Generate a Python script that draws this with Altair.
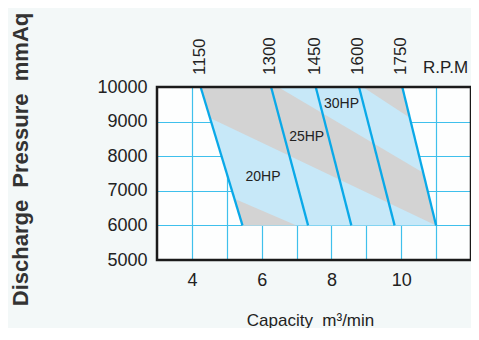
import altair as alt
import pandas as pd

# ---- data ----
rpm = [1150, 1300, 1450, 1600, 1750]
q_top = [4.25, 6.27, 7.55, 8.79, 10.03]      # capacity at 10000 mmAq
q_bottom = [5.45, 7.33, 8.57, 9.81, 11.0]    # capacity at 6000 mmAq
p_top = 10000
p_bottom = 6000

# HP band boundary lines, two points each
bound_q1 = [5.22, 4.52, 6.47, 8.90]
bound_p1 = [6770, 9106, 10000, 10000]
bound_q2 = [7.0, 11.0, 10.63, 10.25]
bound_p2 = [6000, 6000, 7520, 9106]

hp_labels = ["20HP", "25HP", "30HP"]
hp_q = [6.04, 7.29, 8.29]
hp_p = [7405, 8558, 9504]

x_domain = [3, 12]
y_domain = [5000, 10000]
x_grid = [4, 5, 6, 7, 8, 9, 10, 11]
y_ticks = [5000, 6000, 7000, 8000, 9000, 10000]

BLUE_FILL = "#c7e8f8"
GRAY_FILL = "#d3d3d3"
LINE = "#0aa9e8"
GRID = "#3fc0ec"
FONT = "Liberation Sans"


def line_coef(i):
    b = (bound_p2[i] - bound_p1[i]) / (bound_q2[i] - bound_q1[i])
    a = bound_p1[i] - b * bound_q1[i]
    return a, b


def clip(poly, i, keep_above):
    a, b = line_coef(i)

    def side(pt):
        v = pt[1] - (a + b * pt[0])
        return v if keep_above else -v

    out = []
    n = len(poly)
    for k in range(n):
        cur, nxt = poly[k], poly[(k + 1) % n]
        sc, sn = side(cur), side(nxt)
        if sc >= 0:
            out.append(cur)
        if (sc >= 0) != (sn >= 0):
            t = sc / (sc - sn)
            out.append((cur[0] + t * (nxt[0] - cur[0]), cur[1] + t * (nxt[1] - cur[1])))
    return out


quad = [(q_top[0], p_top), (q_top[-1], p_top), (q_bottom[-1], p_bottom), (q_bottom[0], p_bottom)]
gray_polys = {
    "A": clip(quad, 0, False),
    "B": clip(clip(quad, 1, True), 2, False),
    "C": clip(quad, 3, True),
}


def poly_df(polys):
    rows = []
    for name, pts in polys.items():
        for k, (q, p) in enumerate(pts + [pts[0]]):
            rows.append({"band": name, "idx": k, "Q": q, "P": p})
    return pd.DataFrame(rows)


blue_df = poly_df({"quad": quad})
gray_df = poly_df(gray_polys)

lines_rows = []
for r, qt, qb in zip(rpm, q_top, q_bottom):
    lines_rows.append({"rpm": r, "Q": qt, "P": p_top, "o": 0})
    lines_rows.append({"rpm": r, "Q": qb, "P": p_bottom, "o": 1})
lines_df = pd.DataFrame(lines_rows)

rpm_lab_df = pd.DataFrame({"rpm": [str(r) for r in rpm], "Q": q_top, "P": [p_top] * len(rpm)})
hp_df = pd.DataFrame({"label": hp_labels, "Q": hp_q, "P": hp_p})
rpm_title_df = pd.DataFrame({"label": ["R.P.M"], "Q": [11.27], "P": [p_top]})
frame_df = pd.DataFrame({"x": [x_domain[0]], "x2": [x_domain[1]], "y": [y_domain[0]], "y2": [y_domain[1]]})

xs = alt.Scale(domain=x_domain, nice=False, zero=False)
ys = alt.Scale(domain=y_domain, nice=False, zero=False)

x_axis = alt.Axis(
    values=x_grid,
    labelExpr="datum.value % 2 == 0 ? datum.label : ''",
    title="Capacity\u00a0\u00a0m\u00b3/min",
    titleFontWeight="normal",
    titleFontSize=17,
    titleX=153,
    titleY=60,
    titleBaseline="middle",
    titleColor="#222222",
    labelPadding=11,
)
y_axis = alt.Axis(
    values=y_ticks,
    format="d",
    labelOverlap=False,
    labelBound=False,
    labelFlush=False,
    title="Discharge\u00a0\u00a0Pressure\u00a0\u00a0mmAq",
    titleFontWeight="bold",
    titleFontSize=22,
    titleAngle=-90,
    titleX=-137,
    titleY=72,
    titleAlign="center",
    titleBaseline="middle",
    titleColor="#333333",
    labelPadding=10,
    gridOpacity={"condition": {"test": "datum.value == 5000 || datum.value == 10000", "value": 0}, "value": 1},
)

X = alt.X("Q:Q", scale=xs, axis=x_axis)
Y = alt.Y("P:Q", scale=ys, axis=y_axis)

blue = alt.Chart(blue_df).mark_line(filled=True, strokeWidth=0, color=BLUE_FILL).encode(
    x=X, y=Y, order="idx:Q", detail="band:N"
)
gray = alt.Chart(gray_df).mark_line(filled=True, strokeWidth=0, color=GRAY_FILL).encode(
    x=X, y=Y, order="idx:Q", detail="band:N"
)
rpm_lines = alt.Chart(lines_df).mark_line(color=LINE, strokeWidth=2.3).encode(
    x=X, y=Y, order="o:Q", detail="rpm:N"
)
frame = alt.Chart(frame_df).mark_rect(filled=False, stroke="#1a1a1a", strokeWidth=2.5).encode(
    x=alt.X("x:Q", scale=xs, axis=x_axis), x2="x2", y=alt.Y("y:Q", scale=ys, axis=y_axis), y2="y2"
)
rpm_text = alt.Chart(rpm_lab_df).mark_text(
    angle=270, align="left", baseline="middle", yOffset=-12, xOffset=-1,
    font=FONT, fontSize=17, color="#222222"
).encode(x=X, y=Y, text="rpm:N")
rpm_title = alt.Chart(rpm_title_df).mark_text(
    align="center", baseline="middle", yOffset=-19, font=FONT, fontSize=17, color="#222222"
).encode(x=X, y=Y, text="label:N")
hp_text = alt.Chart(hp_df).mark_text(
    align="center", baseline="middle", font=FONT, fontSize=14, color="#222222"
).encode(x=X, y=Y, text="label:N")

chart = (
    alt.layer(blue, gray, rpm_lines, hp_text, frame, rpm_text, rpm_title)
    .properties(
        width=314,
        height=173,
        autosize=alt.AutoSizeParams(type="none"),
        padding={"left": 149, "top": 79, "right": 0, "bottom": 68},
        background="#f3f8f8",
    )
    .configure_view(strokeWidth=0, fill="#fdfefe")
    .configure_axis(
        grid=True,
        gridColor=GRID,
        gridWidth=1.2,
        domain=False,
        ticks=False,
        tickSize=0,
        labelFont=FONT,
        labelFontSize=18,
        labelColor="#222222",
        titleFont=FONT,
        zindex=1,
    )
    .configure_axisY(labelOverlap=False)
)

chart.save("out.html", embed_options={"renderer": "svg", "actions": False})
